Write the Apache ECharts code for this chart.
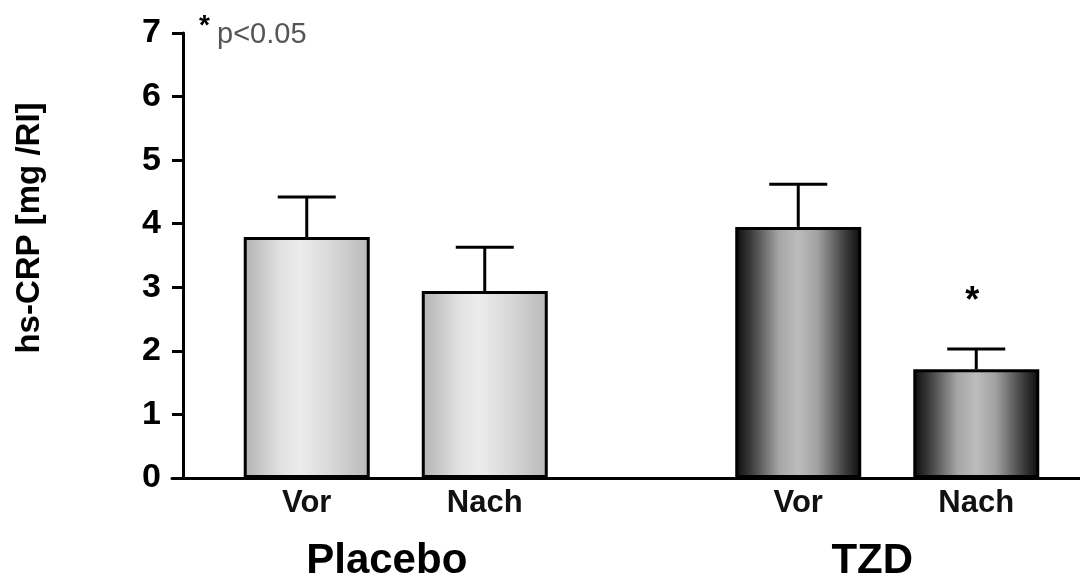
<!DOCTYPE html>
<html>
<head>
<meta charset="utf-8">
<script src="https://cdn.jsdelivr.net/npm/echarts@6/dist/echarts.min.js"></script>
<style>html,body{margin:0;padding:0;background:#fff}#c{width:1080px;height:577px}</style>
</head>
<body>
<div id="c"></div>
<script>
// ---- data ----
const groups = ['Placebo', 'TZD'];
const timepoints = ['Vor', 'Nach'];
const meanVor = [3.79, 3.95];
const meanNach = [2.94, 1.71];
const semVor = [0.63, 0.67];
const semNach = [0.69, 0.32];
const sigVor = ['', ''];
const sigNach = ['', '*'];
const yMin = 0, yMax = 7, yStep = 1;
const yTitle = 'hs-CRP [mg /RI]';
const noteStar = '*';
const noteText = 'p<0.05';

// ---- styles ----
const FONT = '"Liberation Sans", Arial, sans-serif';
const BAR_W = 126, GAP_PX = 52;
const groupLabelShift = [18, 30]; // right padding to nudge group labels left
const fills = [
  new echarts.graphic.LinearGradient(0, 0, 1, 0, [
    {offset: 0, color: '#b2b2b2'}, {offset: 0.3, color: '#e2e2e2'},
    {offset: 0.45, color: '#ececec'}, {offset: 0.7, color: '#d8d8d8'},
    {offset: 0.85, color: '#c8c8c8'}, {offset: 1, color: '#b8b8b8'}]),
  new echarts.graphic.LinearGradient(0, 0, 1, 0, [
    {offset: 0, color: '#0a0a0a'}, {offset: 0.12, color: '#3a3a3a'},
    {offset: 0.35, color: '#a6a6a6'}, {offset: 0.5, color: '#bcbcbc'},
    {offset: 0.65, color: '#a2a2a2'}, {offset: 0.88, color: '#3a3a3a'},
    {offset: 1, color: '#0a0a0a'}])
];

const chart = echarts.init(document.getElementById('c'), null, {renderer: 'canvas'});

function barSeries(name, means) {
  return {
    type: 'bar', name: name, xAxisIndex: 0, yAxisIndex: 0,
    barWidth: BAR_W, barGap: (GAP_PX / BAR_W * 100).toFixed(1) + '%',
    data: means.map((v, i) => ({value: v, itemStyle: {color: fills[i]}})),
    itemStyle: {borderColor: '#000', borderWidth: 3},
    label: {show: true, position: 'bottom', distance: 10, formatter: name,
      fontFamily: FONT, fontSize: 31, fontWeight: 'bold', color: '#111'},
    emphasis: {disabled: true}, animation: false, z: 2
  };
}

function errSeries(means, sems, sigs, side) {
  return {
    type: 'custom', xAxisIndex: 0, yAxisIndex: 0, z: 3, animation: false,
    data: means.map((m, i) => [i, m, sems[i], sigs[i]]),
    encode: {x: 0, y: 1},
    renderItem: function (params, api) {
      const i = api.value(0), m = api.value(1), e = api.value(2);
      const base = api.coord([i, m]);
      const top = api.coord([i, m + e]);
      const x = base[0] + side * (BAR_W + GAP_PX) / 2;
      const st = {stroke: '#000', lineWidth: 3};
      const children = [
        {type: 'line', shape: {x1: x, y1: base[1], x2: x, y2: top[1]}, style: st},
        {type: 'line', shape: {x1: x - 29, y1: top[1], x2: x + 29, y2: top[1]}, style: st}
      ];
      const sig = sigs[params.dataIndex];
      if (sig) {
        children.push({type: 'text', style: {text: sig, x: x - 4, y: top[1] - 47,
          align: 'center', verticalAlign: 'middle', font: 'bold 36px ' + FONT, fill: '#000'}});
      }
      return {type: 'group', children: children};
    }
  };
}

chart.setOption({
  animation: false,
  backgroundColor: '#fff',
  grid: [
    {left: 150, width: 983, top: 33, bottom: 99, outerBoundsMode: 'none', containLabel: false},
    {left: 172, right: 0, top: 33, bottom: 99, outerBoundsMode: 'none', containLabel: false}
  ],
  xAxis: [
    {type: 'category', gridIndex: 0,
      data: groups.map((g, i) => ({value: g, textStyle: {padding: [0, groupLabelShift[i], 0, 0]}})),
      axisLine: {show: false}, axisTick: {show: false},
      axisLabel: {margin: 62, fontFamily: FONT, fontSize: 42, fontWeight: 'bold', color: '#000'}},
    {type: 'value', gridIndex: 1, min: 0, max: 1,
      axisLine: {show: true, lineStyle: {color: '#000', width: 3}},
      axisTick: {show: false}, axisLabel: {show: false}, splitLine: {show: false}}
  ],
  yAxis: [
    {type: 'value', gridIndex: 0, min: yMin, max: yMax, show: false},
    {type: 'value', gridIndex: 1, min: yMin, max: yMax, interval: yStep, offset: -11,
      axisLine: {show: true, lineStyle: {color: '#000', width: 3}},
      axisTick: {show: true, length: 11, lineStyle: {color: '#000', width: 3}},
      axisLabel: {margin: 22, fontFamily: FONT, fontSize: 34, fontWeight: 'bold', color: '#000'},
      splitLine: {show: false}}
  ],
  graphic: [
    {type: 'text', x: 30, y: 228, rotation: Math.PI / 2,
      style: {text: yTitle, font: 'bold 33px ' + FONT, fill: '#000', align: 'center', verticalAlign: 'middle'}},
    {type: 'text', left: 199, top: 12,
      style: {text: noteStar, font: 'bold 28px ' + FONT, fill: '#000'}},
    {type: 'text', left: 217, top: 20,
      style: {text: noteText, font: '29px ' + FONT, fill: '#555'}}
  ],
  series: [
    barSeries(timepoints[0], meanVor),
    barSeries(timepoints[1], meanNach),
    errSeries(meanVor, semVor, sigVor, -1),
    errSeries(meanNach, semNach, sigNach, 1)
  ]
});
</script>
</body>
</html>
